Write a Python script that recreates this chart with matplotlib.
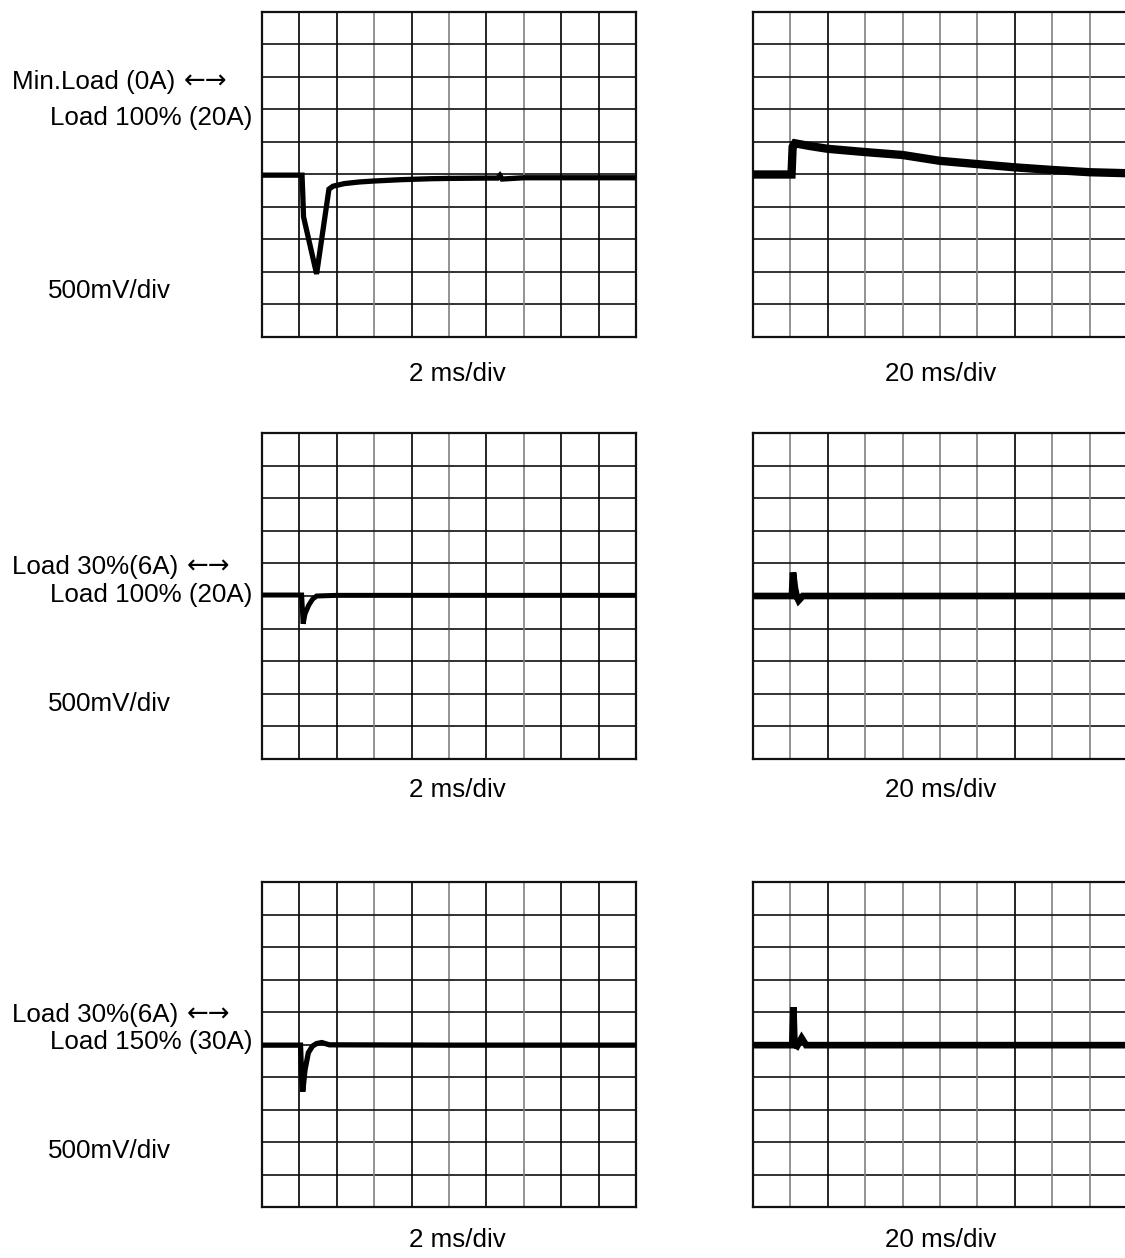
import numpy as np
import matplotlib
matplotlib.use("Agg")
import matplotlib.pyplot as plt

plt.rcParams['font.family'] = ['Liberation Sans', 'DejaVu Sans']

# traces, in divisions (x: 0..10 time div, y: 0..10 voltage div)
t_min_100_fast = [0, 1.07, 1.09, 1.11, 1.46, 1.79, 1.9, 2.2, 2.6, 3.0, 3.7, 4.5, 5.0, 6.0, 6.3, 6.36, 6.42, 7.0, 8.0, 10.0]
v_min_100_fast = [4.98, 4.98, 4.4, 3.7, 1.94, 4.55, 4.64, 4.72, 4.77, 4.8, 4.84, 4.87, 4.88, 4.89, 4.89, 4.97, 4.86, 4.9, 4.9, 4.9]

t_min_100_slow = [0, 1.03, 1.06, 1.12, 1.5, 2, 3, 4, 5, 6, 7, 8, 9, 10]
v_min_100_slow = [5.0, 5.0, 5.85, 5.96, 5.88, 5.79, 5.69, 5.6, 5.42, 5.32, 5.22, 5.14, 5.07, 5.04]

t_30_100_fast = [0, 1.06, 1.08, 1.1, 1.15, 1.25, 1.35, 1.46, 2.0, 5.0, 10.0]
v_30_100_fast = [5.03, 5.03, 4.6, 4.15, 4.45, 4.72, 4.9, 5.0, 5.02, 5.02, 5.02]

t_30_100_slow = [0, 1.04, 1.07, 1.12, 1.17, 1.22, 1.33, 2.0, 5.0, 10.0]
v_30_100_slow = [5.0, 5.0, 5.72, 5.25, 4.98, 4.86, 5.0, 5.0, 5.0, 5.0]

t_30_150_fast = [0, 1.03, 1.06, 1.09, 1.15, 1.24, 1.35, 1.46, 1.6, 1.8, 5.0, 10.0]
v_30_150_fast = [4.98, 4.98, 4.0, 3.55, 4.22, 4.75, 4.95, 5.03, 5.06, 4.99, 4.98, 4.98]

t_30_150_slow = [0, 1.05, 1.08, 1.11, 1.18, 1.3, 1.42, 2.0, 5.0, 10.0]
v_30_150_slow = [4.98, 4.98, 6.15, 5.0, 4.95, 5.2, 4.98, 4.98, 4.98, 4.98]

top_labels = ["Min.Load (0A)", "Load 30%(6A)", "Load 30%(6A)"]
arrows = "\u2190\u2192"
mid_labels = ["Load 100% (20A)", "Load 100% (20A)", "Load 150% (30A)"]
fast_label = "2 ms/div"
slow_label = "20 ms/div"
volt_label = "500mV/div"

W, H = 1125, 1258
fig = plt.figure(figsize=(W / 100, H / 100), dpi=100)
overlay = fig.add_axes([0, 0, 1, 1])
overlay.axis('off')


def px(x, y):
    return x / W, 1 - y / H


# vertical graticule shades as scanned (k = black, g = gray)
left_vcols = ['k', 'k', '#808080', 'k', '#808080', 'k', '#808080', 'k', 'k']
right_vcols = ['#808080', 'k', '#808080', '#808080', '#808080', '#808080', 'k', '#808080', '#808080']


def scope(left, top, bottom, t, v, lw, vcols):
    x0, y0 = px(left, bottom)
    ax = fig.add_axes([x0, y0, 374 / W, (bottom - top) / H])
    ax.set_xlim(0, 10)
    ax.set_ylim(0, 10)
    ax.set_xticks([])
    ax.set_yticks([])
    for i in range(1, 10):
        ax.axvline(i, color=vcols[i - 1], lw=1.2, zorder=1)
        ax.axhline(i, color='#111111', lw=1.2, zorder=1)
    ax.plot(np.full(9, 5.0), np.arange(1, 10), ls='none', marker='_', ms=7, mew=1.2, color='#333333', zorder=1)
    for s in ax.spines.values():
        s.set_linewidth(1.6)
        s.set_color('#111111')
    ax.plot(t, v, color='black', lw=lw, solid_joinstyle='miter', zorder=3)
    return ax


rows = [(12, 337), (433, 759), (882, 1207)]
fast = [(t_min_100_fast, v_min_100_fast, 3.8), (t_30_100_fast, v_30_100_fast, 3.6), (t_30_150_fast, v_30_150_fast, 3.8)]
slow = [(t_min_100_slow, v_min_100_slow, 6.0), (t_30_100_slow, v_30_100_slow, 4.8), (t_30_150_slow, v_30_150_slow, 4.8)]
label_y = [374, 790, 1240]
top_y = [82, 567, 1015]
mid_y = [118, 595, 1042]
volt_y = [291, 704, 1151]

fs = 18.7
for r, (top, bottom) in enumerate(rows):
    scope(262, top, bottom, fast[r][0], fast[r][1], fast[r][2], left_vcols)
    scope(753, top, bottom, slow[r][0], slow[r][1], slow[r][2], right_vcols)
    fig.text(*px(457, label_y[r]), fast_label, ha='center', va='center', fontsize=fs)
    fig.text(*px(941, label_y[r]), slow_label, ha='center', va='center', fontsize=fs)
    lbl = fig.text(*px(12, top_y[r]), top_labels[r], ha='left', va='center', fontsize=fs)
    overlay.annotate(arrows, xy=(1, 0.5), xycoords=lbl, xytext=(6, 0), textcoords='offset points',
                     ha='left', va='center', fontsize=fs, family='DejaVu Sans')
    fig.text(*px(252, mid_y[r]), mid_labels[r], ha='right', va='center', fontsize=fs)
    fig.text(*px(48, volt_y[r]), volt_label, ha='left', va='center', fontsize=fs)

fig.savefig("out.png", dpi=100, facecolor='white')
